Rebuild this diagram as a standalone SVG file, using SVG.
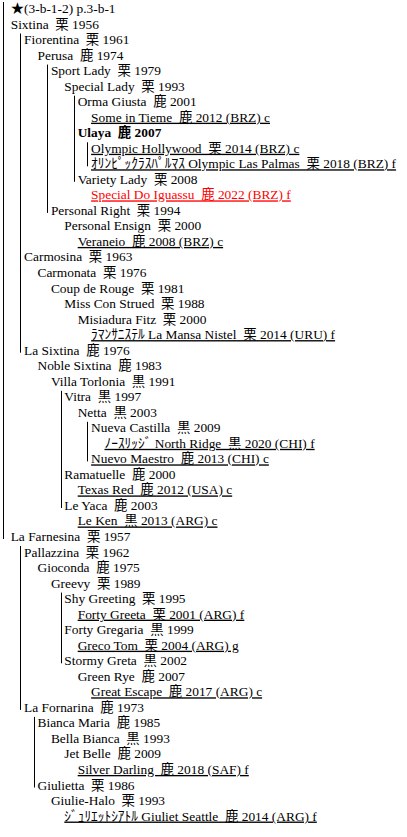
<svg xmlns="http://www.w3.org/2000/svg" width="407" height="837" viewBox="0 0 407 837" xml:space="preserve">
<style>
.t{font-family:"Liberation Serif","Noto Sans CJK JP","DejaVu Sans",serif;font-size:13.4px;fill:#000;white-space:pre}
.u{text-decoration:underline}
.r{fill:#f00}
.b{font-weight:bold}
.c{stroke:#000;stroke-width:1;fill:none}
</style>
<rect x="0" y="0" width="407" height="837" fill="#fff"/>
<g id="connectors">
<line class="c" x1="3.5" y1="2" x2="3.5" y2="539"/>
<line class="c" x1="20.5" y1="33.5" x2="20.5" y2="352.7"/>
<line class="c" x1="47.5" y1="64.6" x2="47.5" y2="212.9"/>
<line class="c" x1="74.5" y1="95.7" x2="74.5" y2="181.8"/>
<line class="c" x1="87.5" y1="142.3" x2="87.5" y2="166.3"/>
<line class="c" x1="61.5" y1="390.8" x2="61.5" y2="508"/>
<line class="c" x1="87.5" y1="421.8" x2="87.5" y2="461.4"/>
<line class="c" x1="20.5" y1="546" x2="20.5" y2="709.9"/>
<line class="c" x1="61.5" y1="592.6" x2="61.5" y2="663.3"/>
<line class="c" x1="34.5" y1="716.9" x2="34.5" y2="787.5"/>
</g>
<g id="n01"><text class="t" x="10.7" y="13">★(3-b-1-2) p.3-b-1</text></g>
<g id="n02"><text class="t" x="10.7" y="28.53">Sixtina  栗 1956</text></g>
<g id="n03"><text class="t" x="24.1" y="44.06">Fiorentina  栗 1961</text></g>
<g id="n04"><text class="t" x="37.5" y="59.59">Perusa  鹿 1974</text></g>
<g id="n05"><text class="t" x="50.9" y="75.12">Sport Lady  栗 1979</text></g>
<g id="n06"><text class="t" x="64.3" y="90.65">Special Lady  栗 1993</text></g>
<g id="n07"><text class="t" x="77.7" y="106.18">Orma Giusta  鹿 2001</text></g>
<g id="n08"><text class="t u" x="91.1" y="121.71">Some in Tieme  鹿 2012 (BRZ) c</text></g>
<g id="n09"><text class="t b" x="77.7" y="137.24">Ulaya  鹿 2007</text></g>
<g id="n10"><text class="t u" x="91.1" y="152.77">Olympic Hollywood  栗 2014 (BRZ) c</text></g>
<g id="n11"><text class="t u" x="91.1" y="168.3">ｵﾘﾝﾋﾟｯｸﾗｽﾊﾟﾙﾏｽ Olympic Las Palmas  栗 2018 (BRZ) f</text></g>
<g id="n12"><text class="t" x="77.7" y="183.83">Variety Lady  栗 2008</text></g>
<g id="n13"><text class="t u r" x="91.1" y="199.36">Special Do Iguassu  鹿 2022 (BRZ) f</text></g>
<g id="n14"><text class="t" x="50.9" y="214.89">Personal Right  栗 1994</text></g>
<g id="n15"><text class="t" x="64.3" y="230.42">Personal Ensign  栗 2000</text></g>
<g id="n16"><text class="t u" x="77.7" y="245.95">Veraneio  鹿 2008 (BRZ) c</text></g>
<g id="n17"><text class="t" x="24.1" y="261.48">Carmosina  栗 1963</text></g>
<g id="n18"><text class="t" x="37.5" y="277.01">Carmonata  栗 1976</text></g>
<g id="n19"><text class="t" x="50.9" y="292.54">Coup de Rouge  栗 1981</text></g>
<g id="n20"><text class="t" x="64.3" y="308.07">Miss Con Strued  栗 1988</text></g>
<g id="n21"><text class="t" x="77.7" y="323.6">Misiadura Fitz  栗 2000</text></g>
<g id="n22"><text class="t u" x="91.1" y="339.13">ﾗﾏﾝｻﾆｽﾃﾙ La Mansa Nistel  栗 2014 (URU) f</text></g>
<g id="n23"><text class="t" x="24.1" y="354.66">La Sixtina  鹿 1976</text></g>
<g id="n24"><text class="t" x="37.5" y="370.19">Noble Sixtina  鹿 1983</text></g>
<g id="n25"><text class="t" x="50.9" y="385.72">Villa Torlonia  黒 1991</text></g>
<g id="n26"><text class="t" x="64.3" y="401.25">Vitra  黒 1997</text></g>
<g id="n27"><text class="t" x="77.7" y="416.78">Netta  黒 2003</text></g>
<g id="n28"><text class="t" x="91.1" y="432.31">Nueva Castilla  黒 2009</text></g>
<g id="n29"><text class="t u" x="104.5" y="447.84">ﾉｰｽﾘｯｼﾞ North Ridge  黒 2020 (CHI) f</text></g>
<g id="n30"><text class="t u" x="91.1" y="463.37">Nuevo Maestro  鹿 2013 (CHI) c</text></g>
<g id="n31"><text class="t" x="64.3" y="478.9">Ramatuelle  鹿 2000</text></g>
<g id="n32"><text class="t u" x="77.7" y="494.43">Texas Red  鹿 2012 (USA) c</text></g>
<g id="n33"><text class="t" x="64.3" y="509.96">Le Yaca  鹿 2003</text></g>
<g id="n34"><text class="t u" x="77.7" y="525.49">Le Ken  黒 2013 (ARG) c</text></g>
<g id="n35"><text class="t" x="10.7" y="541.02">La Farnesina  栗 1957</text></g>
<g id="n36"><text class="t" x="24.1" y="556.55">Pallazzina  栗 1962</text></g>
<g id="n37"><text class="t" x="37.5" y="572.08">Gioconda  鹿 1975</text></g>
<g id="n38"><text class="t" x="50.9" y="587.61">Greevy  栗 1989</text></g>
<g id="n39"><text class="t" x="64.3" y="603.14">Shy Greeting  栗 1995</text></g>
<g id="n40"><text class="t u" x="77.7" y="618.67">Forty Greeta  栗 2001 (ARG) f</text></g>
<g id="n41"><text class="t" x="64.3" y="634.2">Forty Gregaria  黒 1999</text></g>
<g id="n42"><text class="t u" x="77.7" y="649.73">Greco Tom  栗 2004 (ARG) g</text></g>
<g id="n43"><text class="t" x="64.3" y="665.26">Stormy Greta  黒 2002</text></g>
<g id="n44"><text class="t" x="77.7" y="680.79">Green Rye  鹿 2007</text></g>
<g id="n45"><text class="t u" x="91.1" y="696.32">Great Escape  鹿 2017 (ARG) c</text></g>
<g id="n46"><text class="t" x="24.1" y="711.85">La Fornarina  鹿 1973</text></g>
<g id="n47"><text class="t" x="37.5" y="727.38">Bianca Maria  鹿 1985</text></g>
<g id="n48"><text class="t" x="50.9" y="742.91">Bella Bianca  黒 1993</text></g>
<g id="n49"><text class="t" x="64.3" y="758.44">Jet Belle  鹿 2009</text></g>
<g id="n50"><text class="t u" x="77.7" y="773.97">Silver Darling  鹿 2018 (SAF) f</text></g>
<g id="n51"><text class="t" x="37.5" y="789.5">Giulietta  栗 1986</text></g>
<g id="n52"><text class="t" x="50.9" y="805.03">Giulie-Halo  栗 1993</text></g>
<g id="n53"><text class="t u" x="64.3" y="820.56">ｼﾞｭﾘｴｯﾄｼｱﾄﾙ Giuliet Seattle  鹿 2014 (ARG) f</text></g>
</svg>
